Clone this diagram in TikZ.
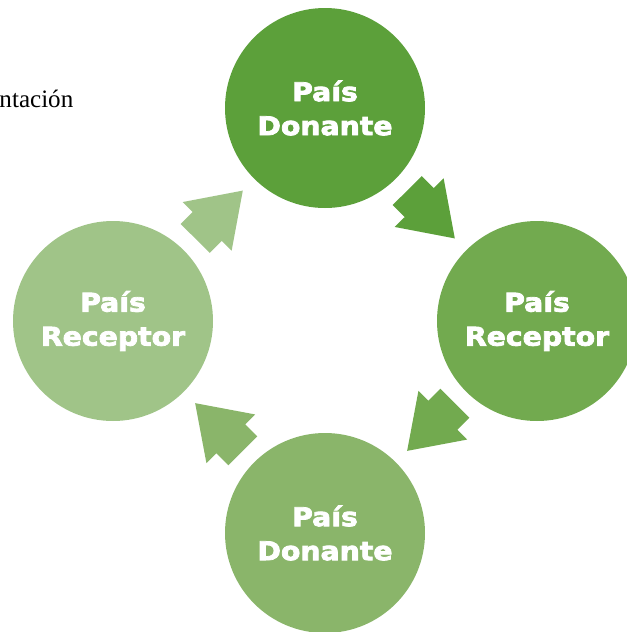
\documentclass[tikz,border=0pt]{standalone}
\usepackage{fontspec}
\usetikzlibrary{calc}
\newfontfamily\cyclefont{DejaVu Sans Bold}[FakeStretch=1.1, FakeBold=3]
\newfontfamily\bodyfont{Liberation Serif}
\definecolor{greenA}{RGB}{92,160,58}
\definecolor{greenB}{RGB}{114,170,79}
\definecolor{greenC}{RGB}{138,181,106}
\definecolor{greenD}{RGB}{160,196,136}

\tikzset{every picture/.style={line width=0.75pt}}
\tikzset{
  stage/.style={circle, minimum size=150pt, inner sep=0pt, draw=none, text=white, align=center,
    font=\cyclefont\fontsize{19.3}{25.5}\selectfont},
}

\begin{document}
\begin{tikzpicture}[x=0.75pt,y=0.75pt,yscale=-1,xscale=1]
\useasboundingbox (0,0) rectangle (626,632);

%Shape: Circle [id:donante1]
\node [stage, fill=greenA] (donante1) at (325,108) {País\\Donante};
%Shape: Circle [id:receptor1]
\node [stage, fill=greenB] (receptor1) at (537,321) {País\\Receptor};
%Shape: Circle [id:donante2]
\node [stage, fill=greenC] (donante2) at (325,533) {País\\Donante};
%Shape: Circle [id:receptor2]
\node [stage, fill=greenD] (receptor2) at (113,321) {País\\Receptor};

%Shape: Right Arrow (between circles)
\foreach \from/\to/\col in {donante1/receptor1/greenA, receptor1/donante2/greenB, donante2/receptor2/greenC, receptor2/donante1/greenD}{
  \fill [\col] let \p1=($(\to.center)-(\from.center)$), \n1={atan2(\y1,\x1)} in
    [shift={($(\from.center)!0.5!(\to.center)$)}, rotate=\n1]
    (-33.75,-20.5) -- (-16.75,-20.5) -- (-16.75,-34.5) -- (33.75,0) -- (-16.75,34.5) -- (-16.75,20.5) -- (-33.75,20.5) -- cycle ;
}

% Text Node
\draw (-1,107) node [anchor=base west][inner sep=0pt] (titulo) {\bodyfont\fontsize{18.8}{22}\selectfont ntación};

\end{tikzpicture}
\end{document}
